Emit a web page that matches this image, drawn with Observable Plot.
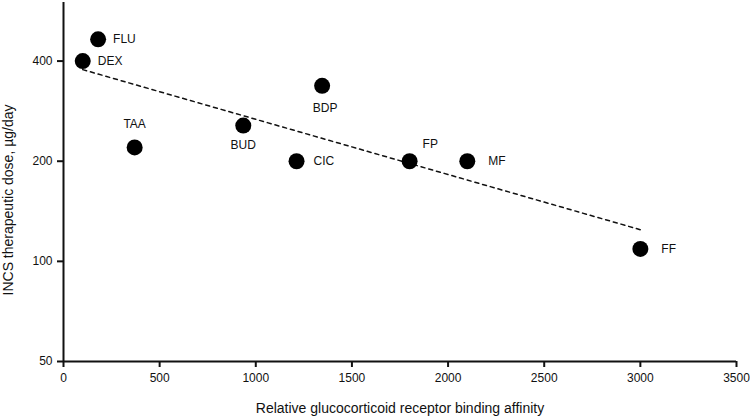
<!DOCTYPE html>
<html>
<head>
<meta charset="utf-8">
<script src="https://cdn.jsdelivr.net/npm/d3@7"></script>
<script src="https://cdn.jsdelivr.net/npm/@observablehq/plot@0.6"></script>
<style>
  body { margin: 0; background: #fff; }
  #chart svg { display: block; }
</style>
</head>
<body>
<div id="chart"></div>
<script>
// Data
const drugs    = ["FLU", "DEX", "TAA", "BUD", "BDP", "CIC", "FP", "MF", "FF"];
const affinity = [180, 100, 370, 935, 1345, 1212, 1800, 2100, 3000];
const dose     = [465, 400, 220, 256, 337, 200, 200, 200, 109];

const trendX = [100, 3000];
const trendY = [377, 124.5];

const xTicks = [0, 500, 1000, 1500, 2000, 2500, 3000, 3500];
const yTicks = [50, 100, 200, 400];

const xLabel = "Relative glucocorticoid receptor binding affinity";
const yLabel = "INCS therapeutic dose, µg/day";

// Build tables
const points = drugs.map((d, i) => ({drug: d, x: affinity[i], y: dose[i]}));
const trend = trendX.map((x, i) => ({x, y: trendY[i]}));

// Label placement (presentation only)
const place = {
  FLU: {dx: 15, dy: 0, anchor: "start"},
  DEX: {dx: 15, dy: 0, anchor: "start"},
  TAA: {dx: 0, dy: -23, anchor: "middle"},
  BUD: {dx: 0, dy: 20, anchor: "middle"},
  BDP: {dx: 3, dy: 22, anchor: "middle"},
  CIC: {dx: 17, dy: 0, anchor: "start"},
  FP:  {dx: 13, dy: -17, anchor: "start"},
  MF:  {dx: 21, dy: 0, anchor: "start"},
  FF:  {dx: 21, dy: 0, anchor: "start"}
};

const labelMarks = Object.entries(place).map(([name, p]) =>
  Plot.text(points.filter(d => d.drug === name), {
    x: "x", y: "y", text: "drug",
    dx: p.dx, dy: p.dy, textAnchor: p.anchor,
    fontSize: 12, fill: "#111"
  })
);

const chart = Plot.plot({
  width: 750,
  height: 417,
  marginLeft: 63,
  marginRight: 14,
  marginTop: 2,
  marginBottom: 56,
  style: {fontFamily: "'Liberation Sans', Arial, sans-serif", fontSize: "12px", color: "#111", background: "#fff"},
  x: {domain: [0, 3500], ticks: xTicks},
  y: {type: "log", domain: [50, 600], ticks: yTicks},
  marks: [
    Plot.axisX({ticks: xTicks, tickSize: 6, strokeWidth: 2, tickPadding: 6, tickFormat: d => String(d),
      label: null, fontSize: 12}),
    Plot.axisY({ticks: yTicks, tickSize: 6, strokeWidth: 2, tickPadding: 5, tickFormat: d => String(d),
      label: null, fontSize: 12}),
    Plot.text([xLabel], {frameAnchor: "bottom", dy: 47, lineAnchor: "middle", textAnchor: "middle", fontSize: 14, fill: "#111"}),
    Plot.text([yLabel], {frameAnchor: "left", dx: -55, dy: 18, rotate: -90, textAnchor: "middle", lineAnchor: "middle", fontSize: 14, fill: "#111"}),
    Plot.ruleX([0], {stroke: "#111", strokeWidth: 2}),
    Plot.ruleY([50], {stroke: "#111", strokeWidth: 2}),
    Plot.line(trend, {x: "x", y: "y", stroke: "#111", strokeWidth: 1.5, strokeDasharray: "4,4"}),
    Plot.dot(points, {x: "x", y: "y", r: 8, fill: "#000", stroke: "none"}),
    ...labelMarks
  ]
});

document.getElementById("chart").append(chart);
</script>
</body>
</html>
